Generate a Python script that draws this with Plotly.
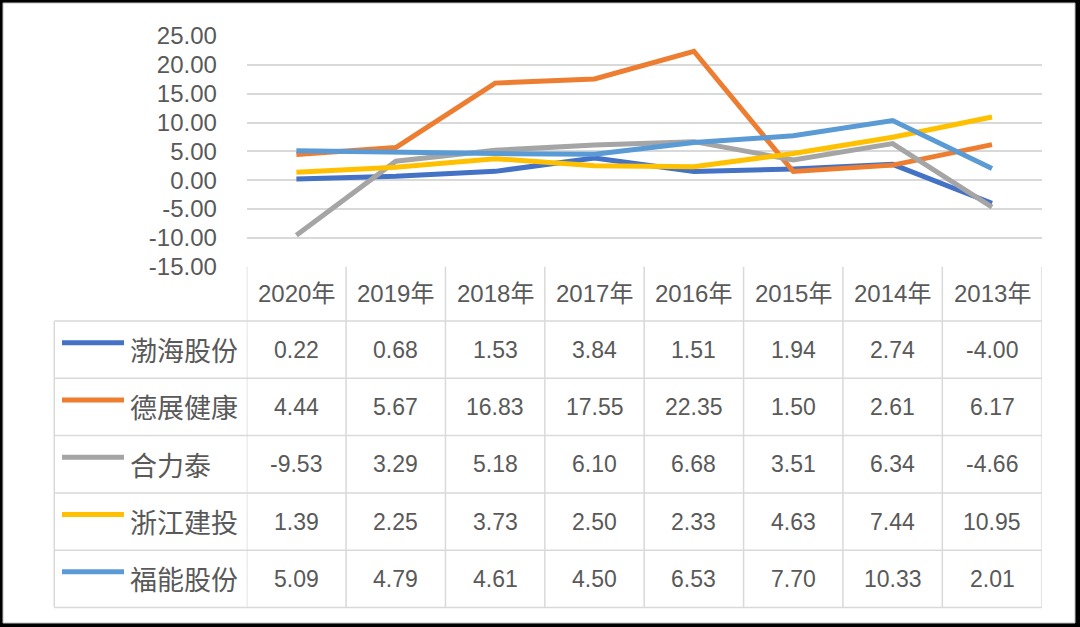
import plotly.graph_objects as go

years = ["2020年", "2019年", "2018年", "2017年", "2016年", "2015年", "2014年", "2013年"]
series_names = ["渤海股份", "德展健康", "合力泰", "浙江建投", "福能股份"]
bohai = [0.22, 0.68, 1.53, 3.84, 1.51, 1.94, 2.74, -4.00]
dezhan = [4.44, 5.67, 16.83, 17.55, 22.35, 1.50, 2.61, 6.17]
helitai = [-9.53, 3.29, 5.18, 6.10, 6.68, 3.51, 6.34, -4.66]
zhejiang = [1.39, 2.25, 3.73, 2.50, 2.33, 4.63, 7.44, 10.95]
funeng = [5.09, 4.79, 4.61, 4.50, 6.53, 7.70, 10.33, 2.01]
y_ticks = [-15, -10, -5, 0, 5, 10, 15, 20, 25]
y_tick_labels = ["-15.00", "-10.00", "-5.00", "0.00", "5.00", "10.00", "15.00", "20.00", "25.00"]

series_values = [bohai, dezhan, helitai, zhejiang, funeng]
colors = ["#4472C4", "#ED7D31", "#A5A5A5", "#FFC000", "#5B9BD5"]

W, H = 1080, 627
def px(x):
    return x / W
def py(y):
    return 1 - y / H

NUMFONT = "Liberation Sans, Noto Sans CJK SC"
CJKFONT = "Noto Sans CJK SC"
TXT = "#595959"
GRID = "#D9D9D9"

plot_left, plot_right = 246.7, 1041.7
plot_top, plot_bottom = 36.0, 266.7
header_bottom = 321.0
row_h = 57.3
n_rows = len(series_names)
table_left = 54.3
row_bounds = [header_bottom + i * row_h for i in range(n_rows + 1)]

fig = go.Figure()
for name, vals, col in zip(series_names, series_values, colors):
    fig.add_trace(go.Scatter(x=years, y=vals, mode="lines", name=name,
                             line=dict(color=col, width=5), showlegend=False))

shapes = []
shapes.append(dict(type="rect", xref="paper", yref="paper", x0=px(3), x1=px(1075),
                   y0=py(623), y1=py(3), fillcolor="white",
                   line=dict(color="#BFBFBF", width=1), layer="below"))
for yb in row_bounds:
    shapes.append(dict(type="line", xref="paper", yref="paper", x0=px(table_left), x1=px(plot_right),
                       y0=py(yb), y1=py(yb), line=dict(color=GRID, width=1.5)))
for i in range(len(years) + 1):
    shapes.append(dict(type="line", xref="x", yref="paper", x0=i - 0.5, x1=i - 0.5,
                       y0=py(plot_bottom), y1=py(row_bounds[-1]), line=dict(color=GRID, width=1.5)))
shapes.append(dict(type="line", xref="paper", yref="paper", x0=px(table_left), x1=px(table_left),
                   y0=py(header_bottom), y1=py(row_bounds[-1]), line=dict(color=GRID, width=1.5)))

annotations = []
hdr_c = (plot_bottom + header_bottom) / 2
for yr in years:
    annotations.append(dict(xref="x", yref="paper", x=yr, y=py(hdr_c), text=yr, showarrow=False,
                            xanchor="center", yanchor="middle",
                            font=dict(family=NUMFONT, size=24, color=TXT)))
for r, (name, vals, col) in enumerate(zip(series_names, series_values, colors)):
    rc = (row_bounds[r] + row_bounds[r + 1]) / 2
    shapes.append(dict(type="line", xref="paper", yref="paper", x0=px(62), x1=px(124),
                       y0=py(rc - 7), y1=py(rc - 7), line=dict(color=col, width=5)))
    annotations.append(dict(xref="paper", yref="paper", x=px(128), y=py(rc), text=name, showarrow=False,
                            xanchor="left", yanchor="middle",
                            font=dict(family=CJKFONT, size=27, color=TXT)))
    for yr, v in zip(years, vals):
        annotations.append(dict(xref="x", yref="paper", x=yr, y=py(rc), text=f"{v:.2f}", showarrow=False,
                                xanchor="center", yanchor="middle",
                                font=dict(family=NUMFONT, size=23, color=TXT)))

fig.update_layout(
    width=W, height=H,
    margin=dict(l=0, r=0, t=0, b=0, pad=0, autoexpand=False),
    paper_bgcolor="black",
    plot_bgcolor="rgba(0,0,0,0)",
    shapes=shapes,
    annotations=annotations,
    xaxis=dict(type="category", categoryorder="array", categoryarray=years,
               range=[-0.5, len(years) - 0.5], domain=[px(plot_left), px(plot_right)],
               visible=False, fixedrange=True, automargin=False),
    yaxis=dict(range=[-15, 25], domain=[py(plot_bottom), py(plot_top)],
               tickvals=y_ticks, ticktext=y_tick_labels, automargin=False,
               showgrid=True, gridcolor=GRID, gridwidth=1.5,
               zeroline=False, showline=False,
               ticks="outside", ticklen=24, tickcolor="rgba(0,0,0,0)",
               tickfont=dict(family=NUMFONT, size=24, color=TXT), fixedrange=True),
    showlegend=False,
)

fig.write_html("out.html", config={"displayModeBar": False},
               post_script="document.body.style.margin='0';document.body.style.overflow='hidden';")
